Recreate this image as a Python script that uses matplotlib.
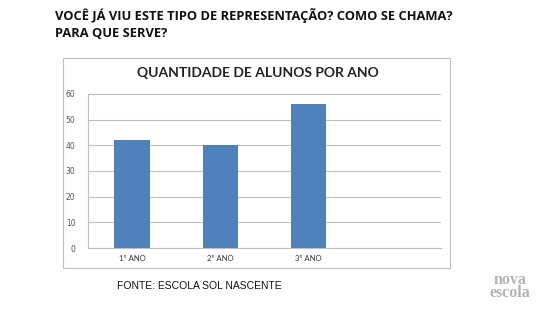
import matplotlib.pyplot as plt
from matplotlib.patches import Rectangle
import numpy as np

# Data
categories = ['1º ANO', '2º ANO', '3º ANO', '']
alunos = [42, 40, 56, np.nan]
y_ticks = [0, 10, 20, 30, 40, 50, 60]

fig = plt.figure(figsize=(5.5, 3.1), dpi=100)
fig.patch.set_facecolor('white')

# Heading question
fig.text(0.1, 0.975, 'VOCÊ JÁ VIU ESTE TIPO DE REPRESENTAÇÃO? COMO SE CHAMA?\nPARA QUE SERVE?',
         family='Open Sans', fontweight='bold', fontsize=9.3, va='top', ha='left',
         linespacing=1.4, color='#111111')

# Chart frame
fig.patches.append(Rectangle((0.1145, 0.135), 0.7035, 0.678, transform=fig.transFigure,
                             fill=False, edgecolor='#bfbfbf', linewidth=0.8))

ax = fig.add_axes([0.16, 0.2, 0.642, 0.497])
x = np.arange(len(categories))
ax.bar(x, alunos, width=0.4, color='#4f81bd', zorder=3)

ax.set_xlim(-0.5, len(categories) - 0.5)
ax.set_ylim(0, 60)
ax.set_yticks(y_ticks)
ax.set_xticks(x)
ax.set_xticklabels(categories, family='Lato', fontsize=5.5, color='#333333')
ax.tick_params(axis='y', labelsize=5.5, colors='#555555', length=0, pad=9)
ax.tick_params(axis='x', length=0, pad=5)
ax.grid(True, axis='y', color='#bfbfbf', linewidth=0.8, zorder=0)
for s in ['top', 'right']:
    ax.spines[s].set_visible(False)
ax.spines['left'].set_color('#bfbfbf')
ax.spines['bottom'].set_color('#bfbfbf')

fig.text(0.469, 0.765, 'QUANTIDADE DE ALUNOS POR ANO', family='Lato', fontweight='bold',
         fontsize=10, ha='center', va='center', color='#222222')

fig.text(0.213, 0.077, 'FONTE: ESCOLA SOL NASCENTE', family='Liberation Sans',
         fontsize=7.5, ha='left', va='center', color='#111111')

fig.text(0.927, 0.075, 'nova\nescola', family='Liberation Serif', fontweight='bold',
         fontsize=11.5, ha='center', va='center', color='#b3b3b3', linespacing=0.72)

plt.savefig('out.png', dpi=100)
